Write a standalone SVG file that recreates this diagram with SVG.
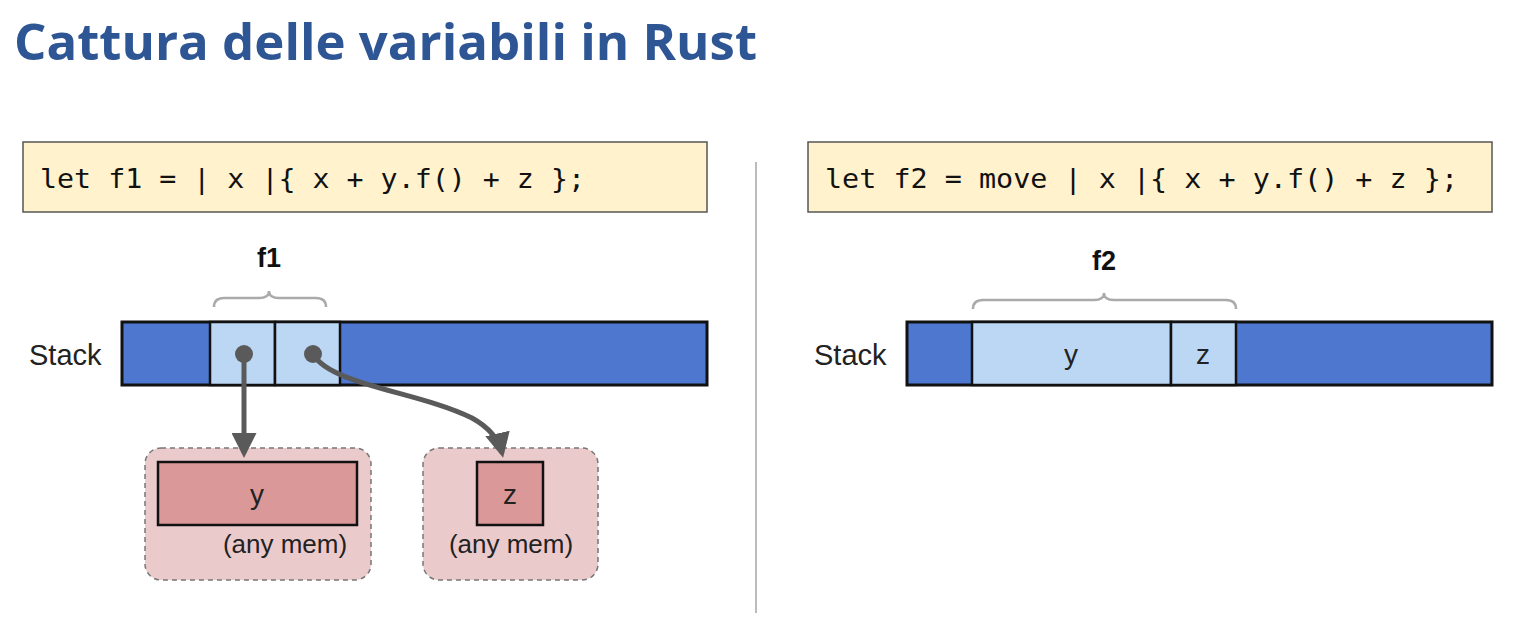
<svg xmlns="http://www.w3.org/2000/svg" width="1514" height="632" viewBox="0 0 1514 632">
<defs>
<style>
.title{font-family:"Open Sans","Liberation Sans",sans-serif;font-weight:bold;font-size:50px;fill:#2E5594}
.code{font-family:"DejaVu Sans Mono","Liberation Mono",monospace;font-size:27px;fill:#111}
.codebox{fill:#FFF2CC;stroke:#555;stroke-width:1.5}
.lbl{font-family:"Liberation Sans",Arial,sans-serif;font-size:28px;fill:#222}
.stk{font-family:"Liberation Sans",Arial,sans-serif;font-size:29px;fill:#222}
.mem{font-family:"Liberation Sans",Arial,sans-serif;font-size:26px;fill:#222}
.fn{font-family:"Liberation Sans",Arial,sans-serif;font-size:27px;font-weight:bold;fill:#111}
.stack{fill:#4E78D0;stroke:#111;stroke-width:3}
.cell{fill:#BCD7F3;stroke:#111;stroke-width:2.5}
.brace{fill:none;stroke:#AAAAAA;stroke-width:2.5}
.heap{fill:#EBCACB;stroke:#777;stroke-width:1.5;stroke-dasharray:5 4}
.obj{fill:#DA9898;stroke:#111;stroke-width:2.5}
.conn{fill:none;stroke:#5A5A5A;stroke-width:5}
.dot{fill:#5A5A5A}
</style>
<marker id="ah" markerWidth="5" markerHeight="5" refX="4" refY="2.5" orient="auto" markerUnits="strokeWidth">
<path d="M0,0 L5,2.5 L0,5 z" fill="#5A5A5A"/>
</marker>
</defs>
<rect width="1514" height="632" fill="#fff"/>
<text id="title" class="title" x="14" y="60" textLength="743" lengthAdjust="spacingAndGlyphs">Cattura delle variabili in Rust</text>
<line id="divider" x1="756" y1="162" x2="756" y2="613" stroke="#BBBBBB" stroke-width="2"/>

<g id="code1">
<rect class="codebox" x="23" y="142" width="684" height="70"/>
<text class="code" x="40" y="188" textLength="545" lengthAdjust="spacingAndGlyphs">let f1 = | x |{ x + y.f() + z };</text>
</g>
<g id="code2">
<rect class="codebox" x="808" y="142" width="684" height="70"/>
<text class="code" x="825" y="188" textLength="633" lengthAdjust="spacingAndGlyphs">let f2 = move | x |{ x + y.f() + z };</text>
</g>

<g id="stack1">
<text class="stk" x="29" y="365">Stack</text>
<rect class="stack" x="122" y="322" width="585" height="63"/>
<rect class="cell" x="210" y="322" width="65" height="63"/>
<rect class="cell" x="275" y="322" width="65" height="63"/>
<text class="fn" x="269" y="267" text-anchor="middle">f1</text>
<path class="brace" d="M214,307 Q214,298 224,298 L259,298 Q269,298 269,291 Q269,298 279,298 L316,298 Q326,298 326,307"/>
</g>

<g id="stack2">
<text class="stk" x="814" y="365">Stack</text>
<rect class="stack" x="907" y="322" width="585" height="63"/>
<rect class="cell" x="972" y="322" width="199" height="63"/>
<rect class="cell" x="1171" y="322" width="65" height="63"/>
<text class="lbl" x="1071" y="364" text-anchor="middle">y</text>
<text class="lbl" x="1203" y="364" text-anchor="middle">z</text>
<text class="fn" x="1104" y="270" text-anchor="middle">f2</text>
<path class="brace" d="M973,309 Q973,300 983,300 L1094,300 Q1104,300 1104,293 Q1104,300 1114,300 L1226,300 Q1236,300 1236,309"/>
</g>

<g id="heapY">
<rect class="heap" x="145" y="448" width="226" height="132" rx="16"/>
<rect class="obj" x="158" y="462" width="199" height="63"/>
<text class="lbl" x="257" y="504" text-anchor="middle">y</text>
<text class="mem" x="285" y="553" text-anchor="middle">(any mem)</text>
</g>
<g id="heapZ">
<rect class="heap" x="423" y="448" width="175" height="132" rx="16"/>
<rect class="obj" x="477" y="462" width="66" height="63"/>
<text class="lbl" x="510" y="504" text-anchor="middle">z</text>
<text class="mem" x="511" y="553" text-anchor="middle">(any mem)</text>
</g>

<g id="connectors">
<circle class="dot" cx="244" cy="354" r="9"/>
<circle class="dot" cx="313" cy="354" r="9"/>
<path class="conn" d="M244,354 L244,453" marker-end="url(#ah)"/>
<path class="conn" d="M313,354 C330,385 420,392 472,418 C490,428 499,440 502,453" marker-end="url(#ah)"/>
</g>
</svg>
